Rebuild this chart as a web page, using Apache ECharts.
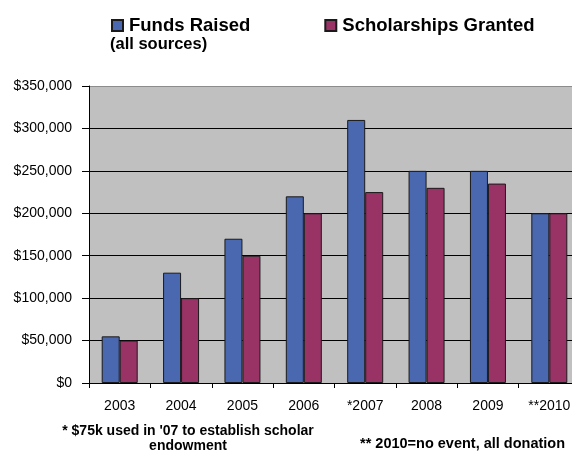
<!DOCTYPE html>
<html>
<head>
<meta charset="UTF-8">
<title></title>
<script src="https://cdn.jsdelivr.net/npm/echarts@6/dist/echarts.min.js"></script>
<style>
    html, body { margin: 0; padding: 0; background: #fff; overflow: hidden; width: 572px; height: 451px; }
</style>
</head>
<body>
<!-- plot runs past the right edge of the picture, so the canvas is a bit wider than the window -->
<div id="main" style="width: 580px;height:451px;"></div>
<script>
    // data
    var years = ['2003', '2004', '2005', '2006', '*2007', '2008', '2009', '**2010'];
    var fundsRaised = [55000, 130000, 170000, 220000, 310000, 250000, 250000, 200000];
    var scholarships = [50000, 100000, 150000, 200000, 225000, 230000, 235000, 200000];

    var font = 'Arial, "Liberation Sans", sans-serif';
    var myChart = echarts.init(document.getElementById('main'));

    var option = {
        animation: false,
        color: ['#4A68B0', '#993366'],
        legend: {
            left: 106,
            top: 11,
            itemWidth: 11,
            itemHeight: 11,
            itemGap: 74,
            icon: 'rect',
            textStyle: { fontFamily: font, fontSize: 18.5, fontWeight: 'bold', color: '#000', padding: [0, 0, 0, 1] },
            data: ['Funds Raised', 'Scholarships Granted']
        },
        grid: {
            left: 89, top: 86, right: 0, bottom: 68,
            show: true,
            backgroundColor: '#C0C0C0',
            borderWidth: 0
        },
        xAxis: {
            type: 'category',
            data: years,
            axisLine: { lineStyle: { color: '#000', width: 1 } },
            axisTick: { show: true, length: 5, lineStyle: { color: '#000' } },
            axisLabel: { color: '#000', fontFamily: font, fontSize: 14, margin: 16 }
        },
        yAxis: {
            type: 'value',
            min: 0,
            max: 350000,
            interval: 50000,
            axisLine: { show: true, lineStyle: { color: '#000', width: 1 } },
            axisTick: { show: true, length: 7, lineStyle: { color: '#000' } },
            // top edge of the plot is a grey border, the rest are black gridlines
            splitLine: { lineStyle: { color: ['#000', '#000', '#000', '#000', '#000', '#000', '#000', '#8c8c8c'], width: 1 } },
            axisLabel: {
                color: '#000', fontFamily: font, fontSize: 14, margin: 17,
                formatter: function (v) { return '$' + v.toLocaleString('en-US'); }
            }
        },
        series: [
            {
                name: 'Funds Raised',
                type: 'bar',
                data: fundsRaised,
                barWidth: 18,
                barGap: '0%',
                itemStyle: { borderColor: '#1a1a1a', borderWidth: 1 }
            },
            {
                name: 'Scholarships Granted',
                type: 'bar',
                data: scholarships,
                barWidth: 18,
                itemStyle: { borderColor: '#1a1a1a', borderWidth: 1 }
            }
        ],
        graphic: [
            {
                type: 'text', left: 110, top: 36,
                style: { text: '(all sources)', font: 'bold 16.5px ' + font, fill: '#000' }
            },
            {
                type: 'text', x: 188, y: 424,
                style: {
                    text: "* $75k used in '07 to establish scholar\nendowment",
                    font: 'bold 14px ' + font, fill: '#000', align: 'center', lineHeight: 15
                }
            },
            {
                type: 'text', x: 360, y: 436,
                style: { text: '** 2010=no event, all donation', font: 'bold 14.5px ' + font, fill: '#000' }
            }
        ]
    };

    myChart.setOption(option);
</script>
</body>
</html>
